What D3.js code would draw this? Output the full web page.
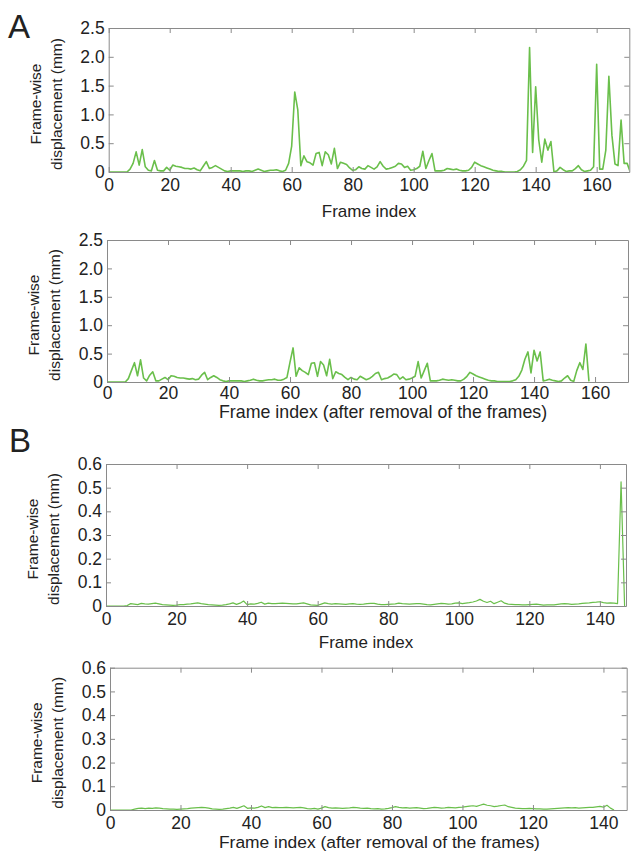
<!DOCTYPE html>
<html>
<head>
<meta charset="utf-8">
<script src="https://cdn.jsdelivr.net/npm/d3@7"></script>
<style>
  body { margin: 0; background: #fff; }
  svg { display: block; font-family: Arial, "Liberation Sans", sans-serif; }
</style>
</head>
<body>
<svg id="chart" width="631" height="859"></svg>
<script>
// Frame-wise displacement (mm), one value per frame starting at frame 0

// A, all frames
const fdA = [
  0, 0, 0, 0, 0, 0, 0, 0.05, 0.15, 0.35,
  0.12, 0.39, 0.09, 0.03, 0.02, 0.2, 0.03, 0.02, 0.02, 0.08,
  0.03, 0.12, 0.1, 0.09, 0.08, 0.06, 0.06, 0.05, 0.07, 0.04,
  0.02, 0.1, 0.18, 0.06, 0.08, 0.11, 0.08, 0.05, 0.02, 0.01,
  0.02, 0.02, 0.02, 0.02, 0.01, 0.02, 0.02, 0.01, 0.03, 0.05,
  0.03, 0.01, 0.02, 0.03, 0.03, 0.04, 0.02, 0.01, 0.03, 0.15,
  0.45, 1.39, 1.08, 0.11, 0.28, 0.18, 0.16, 0.12, 0.32, 0.34,
  0.11, 0.35, 0.3, 0.14, 0.41, 0.06, 0.17, 0.15, 0.13, 0.07,
  0.03, 0.04, 0.09, 0.06, 0.05, 0.11, 0.08, 0.05, 0.09, 0.18,
  0.1, 0.05, 0.06, 0.08, 0.1, 0.15, 0.14, 0.08, 0.1, 0.03,
  0.04, 0.06, 0.1, 0.36, 0.06, 0.2, 0.32, 0.02, 0.02, 0.02,
  0.03, 0.06, 0.05, 0.04, 0.05, 0.03, 0.02, 0.02, 0.03, 0.08,
  0.17, 0.14, 0.11, 0.09, 0.07, 0.05, 0.03, 0.02, 0.01, 0.01,
  0, 0, 0, 0, 0.01, 0.04, 0.1, 0.2, 2.16, 0.34,
  1.48, 0.56, 0.17, 0.57, 0.38, 0.53, 0, 0.02, 0.08, 0.04,
  0.01, 0.02, 0.02, 0.06, 0.11, 0.04, 0.01, 0.02, 0.03, 0.09,
  1.87, 0.05, 0.05, 0.38, 1.66, 0.64, 0.14, 0.11, 0.9, 0.15,
  0.15, 0
];

// A, after removal of the frames
const fdAClean = [
  0, 0, 0, 0, 0, 0, 0, 0.06, 0.2, 0.34,
  0.11, 0.39, 0.07, 0.02, 0.12, 0.18, 0.02, 0.02, 0.05, 0.08,
  0.04, 0.11, 0.1, 0.08, 0.07, 0.07, 0.06, 0.05, 0.06, 0.04,
  0.05, 0.12, 0.17, 0.04, 0.08, 0.11, 0.08, 0.04, 0.02, 0.01,
  0.02, 0.02, 0.02, 0.02, 0.02, 0.01, 0.02, 0.03, 0.05, 0.03,
  0.02, 0.02, 0.03, 0.04, 0.04, 0.05, 0.03, 0.03, 0.05, 0.08,
  0.35, 0.6, 0.1, 0.25, 0.2, 0.17, 0.13, 0.33, 0.34, 0.1,
  0.36, 0.3, 0.11, 0.4, 0.06, 0.18, 0.15, 0.13, 0.08, 0.04,
  0.08, 0.05, 0.04, 0.1, 0.07, 0.04, 0.06, 0.1, 0.15, 0.17,
  0.04, 0.06, 0.07, 0.1, 0.14, 0.13, 0.05, 0.09, 0.04, 0.05,
  0.07, 0.1, 0.36, 0.07, 0.2, 0.33, 0.02, 0.02, 0.02, 0.03,
  0.05, 0.04, 0.03, 0.04, 0.03, 0.02, 0.02, 0.05, 0.1, 0.17,
  0.14, 0.11, 0.09, 0.07, 0.05, 0.03, 0.02, 0.02, 0.01, 0.01,
  0.01, 0.01, 0.01, 0.02, 0.04, 0.1, 0.21, 0.4, 0.53, 0.16,
  0.56, 0.37, 0.53, 0.02, 0.03, 0.05, 0.03, 0.02, 0.01, 0.02,
  0.07, 0.11, 0.03, 0.01, 0.2, 0.34, 0.22, 0.67, 0.01
];

// B, all frames
const fdB = [
  0, 0, 0, 0, 0, 0, 0.002, 0.01, 0.008, 0.006,
  0.011, 0.009, 0.008, 0.01, 0.012, 0.009, 0.006, 0.005, 0.004, 0.003,
  0.004, 0.006, 0.006, 0.008, 0.009, 0.011, 0.013, 0.01, 0.008, 0.006,
  0.005, 0.004, 0.003, 0.004, 0.006, 0.009, 0.013, 0.007, 0.012, 0.021,
  0.006, 0.009, 0.008, 0.011, 0.016, 0.008, 0.012, 0.01, 0.01, 0.011,
  0.012, 0.011, 0.01, 0.009, 0.009, 0.011, 0.013, 0.009, 0.005, 0.004,
  0.003, 0.008, 0.013, 0.01, 0.008, 0.01, 0.009, 0.008, 0.007, 0.009,
  0.01, 0.008, 0.007, 0.008, 0.01, 0.011, 0.011, 0.008, 0.006, 0.006,
  0.007, 0.008, 0.009, 0.012, 0.01, 0.009, 0.008, 0.009, 0.01, 0.01,
  0.008, 0.006, 0.005, 0.007, 0.009, 0.011, 0.01, 0.008, 0.009, 0.012,
  0.013, 0.01, 0.012, 0.014, 0.017, 0.021, 0.028, 0.02, 0.015, 0.02,
  0.01, 0.016, 0.022, 0.012, 0.008, 0.007, 0.006, 0.006, 0.005, 0.005,
  0.006, 0.007, 0.008, 0.006, 0.004, 0.005, 0.005, 0.005, 0.007, 0.009,
  0.01, 0.009, 0.007, 0.008, 0.009, 0.011, 0.012, 0.013, 0.015, 0.016,
  0.018, 0.014, 0.012, 0.013, 0.012, 0.01, 0.525, 0
];

// B, after removal of the frames
const fdBClean = [
  0, 0, 0, 0, 0, 0, 0, 0.004, 0.007, 0.008,
  0.006, 0.008, 0.007, 0.009, 0.008, 0.006, 0.005, 0.004, 0.004, 0.003,
  0.004, 0.005, 0.006, 0.008, 0.009, 0.01, 0.011, 0.01, 0.008, 0.005,
  0.004, 0.003, 0.004, 0.006, 0.008, 0.011, 0.007, 0.012, 0.018, 0.007,
  0.009, 0.008, 0.011, 0.017, 0.01, 0.014, 0.01, 0.011, 0.01, 0.01,
  0.011, 0.01, 0.009, 0.01, 0.011, 0.009, 0.006, 0.005, 0.007, 0.004,
  0.008, 0.014, 0.01, 0.008, 0.009, 0.008, 0.007, 0.008, 0.009, 0.011,
  0.01, 0.008, 0.007, 0.008, 0.006, 0.005, 0.006, 0.004, 0.005, 0.007,
  0.01, 0.014, 0.011, 0.009, 0.01, 0.008, 0.009, 0.01, 0.008, 0.006,
  0.007, 0.009, 0.011, 0.01, 0.008, 0.009, 0.011, 0.01, 0.009, 0.011,
  0.012, 0.014, 0.016, 0.018, 0.015, 0.02, 0.025, 0.02, 0.018, 0.014,
  0.016, 0.019, 0.021, 0.014, 0.011, 0.008, 0.007, 0.006, 0.006, 0.007,
  0.006, 0.005, 0.005, 0.004, 0.004, 0.005, 0.006, 0.007, 0.008, 0.009,
  0.01, 0.009, 0.01, 0.008, 0.009, 0.01, 0.011, 0.011, 0.013, 0.015,
  0.012, 0.02, 0.008, 0
];

const xTicksA = [0, 20, 40, 60, 80, 100, 120, 140, 160];
const xTicksB = [0, 20, 40, 60, 80, 100, 120, 140];
const yTicksA = [0, 0.5, 1.0, 1.5, 2.0, 2.5];
const yTicksB = [0, 0.1, 0.2, 0.3, 0.4, 0.5, 0.6];

const yTitle = ["Frame-wise", "displacement (mm)"];
const xTitleAll = "Frame index";
const xTitleClean = "Frame index (after removal of the frames)";

const svg = d3.select("#chart");
const boxColor = "#8a8a8a";
const textColor = "#222";
const lineColor = "#6abf4b";

function panel(cfg) {
  const x = d3.scaleLinear().domain([0, cfg.xMax]).range([cfg.left, cfg.right]);
  const y = d3.scaleLinear().domain(cfg.yDomain).range([cfg.bottom, cfg.top]);
  const fmt = v => v === 0 ? "0" : d3.format(".1f")(v);

  const clipId = "clip-" + cfg.id;
  svg.append("clipPath").attr("id", clipId)
    .append("rect")
    .attr("x", cfg.left).attr("y", cfg.top)
    .attr("width", cfg.right - cfg.left).attr("height", cfg.bottom - cfg.top);

  // line first, box on top
  svg.append("path")
    .datum(cfg.data)
    .attr("clip-path", `url(#${clipId})`)
    .attr("fill", "none")
    .attr("stroke", lineColor)
    .attr("stroke-width", cfg.lw)
    .attr("stroke-linejoin", "round")
    .attr("d", d3.line().x((d, i) => x(i)).y(d => y(d)));

  const gx = svg.append("g")
    .attr("transform", `translate(0,${cfg.bottom})`)
    .call(d3.axisBottom(x).tickValues(cfg.xTicks).tickSizeInner(-5).tickSizeOuter(0).tickPadding(cfg.xPad));
  const gy = svg.append("g")
    .attr("transform", `translate(${cfg.left},0)`)
    .call(d3.axisLeft(y).tickValues(cfg.yTicks).tickFormat(fmt).tickSizeInner(-5).tickSizeOuter(0).tickPadding(4));
  const gt = svg.append("g")
    .attr("transform", `translate(0,${cfg.top})`)
    .call(d3.axisTop(x).tickValues(cfg.xTicks).tickSizeInner(-5).tickSizeOuter(0).tickFormat(""));
  const gr = svg.append("g")
    .attr("transform", `translate(${cfg.right},0)`)
    .call(d3.axisRight(y).tickValues(cfg.yTicks).tickSizeInner(-5).tickSizeOuter(0).tickFormat(""));

  [gx, gy, gt, gr].forEach(g => {
    g.select(".domain").attr("stroke", boxColor);
    g.selectAll(".tick line").attr("stroke", boxColor);
    g.selectAll(".tick text")
      .attr("fill", textColor)
      .style("font-size", "17.5px")
      .style("font-family", "Arial, 'Liberation Sans', sans-serif");
  });

  // x title
  svg.append("text")
    .attr("x", cfg.xTitleX)
    .attr("y", cfg.bottom + cfg.xTitleDy)
    .attr("text-anchor", cfg.xTitleAnchor)
    .attr("fill", textColor)
    .style("font-size", cfg.xTitleSize)
    .text(cfg.xTitle);

  // y title, two lines
  const cy = (cfg.top + cfg.bottom) / 2 + 4;
  yTitle.forEach((t, i) => {
    svg.append("text")
      .attr("transform", `translate(${cfg.left - 68 + i * 21},${cy}) rotate(-90)`)
      .attr("text-anchor", "middle")
      .attr("fill", textColor)
      .style("font-size", "15.5px")
      .text(t);
  });
}

panel({ id: "a1", data: fdA, xMax: 170.7, yDomain: [0, 2.5], xTicks: xTicksA, yTicks: yTicksA,
  left: 108.7, right: 629.3, top: 28, bottom: 172, lw: 1.6, xPad: 7,
  xTitle: xTitleAll, xTitleX: 369, xTitleAnchor: "middle", xTitleDy: 45, xTitleSize: "17px" });
panel({ id: "a2", data: fdAClean, xMax: 170.8, yDomain: [0, 2.5], xTicks: xTicksA, yTicks: yTicksA,
  left: 107, right: 628, top: 240, bottom: 382, lw: 1.6, xPad: 5,
  xTitle: xTitleClean, xTitleX: 219, xTitleAnchor: "start", xTitleDy: 36, xTitleSize: "17.8px" });
panel({ id: "b1", data: fdB, xMax: 147.4, yDomain: [0, 0.6], xTicks: xTicksB, yTicks: yTicksB,
  left: 106, right: 626, top: 464, bottom: 606, lw: 1.2, xPad: 7,
  xTitle: xTitleAll, xTitleX: 366, xTitleAnchor: "middle", xTitleDy: 42, xTitleSize: "17px" });
panel({ id: "b2", data: fdBClean, xMax: 146.6, yDomain: [0, 0.6], xTicks: xTicksB, yTicks: yTicksB,
  left: 110, right: 626.7, top: 667.7, bottom: 810, lw: 1.2, xPad: 7,
  xTitle: xTitleClean, xTitleX: 219, xTitleAnchor: "start", xTitleDy: 38, xTitleSize: "17.4px" });

// panel letters
svg.append("text").attr("x", 8).attr("y", 38).attr("fill", textColor)
  .style("font-size", "33px").text("A");
svg.append("text").attr("x", 9).attr("y", 452).attr("fill", textColor)
  .style("font-size", "33px").text("B");
</script>
</body>
</html>
